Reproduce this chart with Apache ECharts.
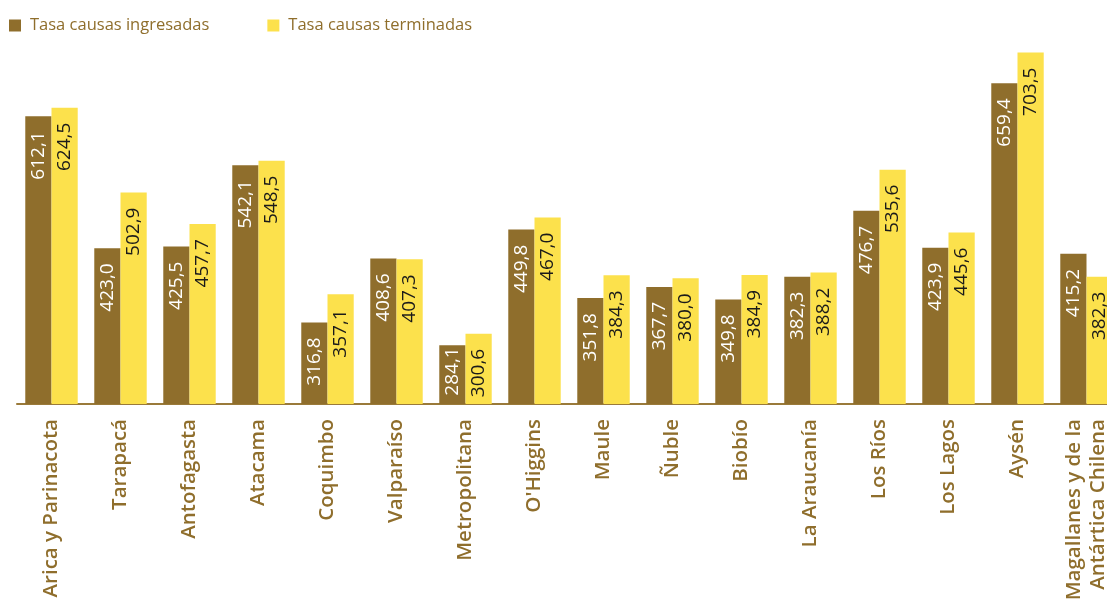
<!DOCTYPE html>
<html>
<head>
<meta charset="utf-8">
<script src="https://cdn.jsdelivr.net/npm/echarts@6/dist/echarts.min.js"></script>
<style>
html,body{margin:0;padding:0;background:#fff;}
#chart{width:1107px;height:600px;}
</style>
</head>
<body>
<div id="chart"></div>
<script>
const categories = ["Arica y Parinacota","Tarapacá","Antofagasta","Atacama","Coquimbo","Valparaíso","Metropolitana","O'Higgins","Maule","Ñuble","Biobío","La Araucanía","Los Ríos","Los Lagos","Aysén","Magallanes y de la\nAntártica Chilena"];
const ingresadas = [612.1,423.0,425.5,542.1,316.8,408.6,284.1,449.8,351.8,367.7,349.8,382.3,476.7,423.9,659.4,415.2];
const terminadas = [624.5,502.9,457.7,548.5,357.1,407.3,300.6,467.0,384.3,380.0,384.9,388.2,535.6,445.6,703.5,382.3];
const seriesNames = ["Tasa causas ingresadas","Tasa causas terminadas"];

const BROWN = "#8F6E2C";
const YELLOW = "#FCE14C";
const FONT = "'Open Sans', 'Noto Sans', sans-serif";
const fmt = p => p.value.toFixed(1).replace('.', ',');

const labelCfg = (color) => ({
  show: true,
  position: 'insideTop',
  distance: 15,
  rotate: 90,
  align: 'right',
  verticalAlign: 'middle',
  color: color,
  fontFamily: FONT,
  fontSize: 19,
  fontWeight: 500,
  formatter: fmt
});

// short bars: pull the label up so it stays inside the bar
const withFit = arr => arr.map(v => v < 300 ? {value: v, label: {distance: 2}} : v);

const chart = echarts.init(document.getElementById('chart'), null, {renderer: 'canvas'});
chart.setOption({
  animation: false,
  legend: {
    left: 4,
    top: 12,
    itemWidth: 12,
    itemHeight: 12,
    itemGap: 58,
    icon: 'rect',
    textStyle: {color: BROWN, fontSize: 16.5, fontFamily: FONT, padding: [0,0,0,4]},
    data: seriesNames
  },
  grid: {left: 17, width: 1104, top: 41, bottom: 196, containLabel: false, outerBoundsMode: 'none'},
  xAxis: {
    type: 'category',
    data: categories,
    axisLine: {lineStyle: {color: '#9A7A3A', width: 2}},
    axisTick: {show: false},
    axisLabel: {
      rotate: 90,
      interval: 0,
      margin: 15,
      color: BROWN,
      fontSize: 20.5,
      fontWeight: 600,
      fontFamily: FONT,
      lineHeight: 24
    }
  },
  yAxis: {
    type: 'value',
    min: 200,
    max: 720,
    show: false,
    splitLine: {show: false}
  },
  series: [
    {
      name: seriesNames[0],
      type: 'bar',
      data: withFit(ingresadas),
      barWidth: '38%',
      barGap: '0%',
      itemStyle: {color: BROWN},
      label: labelCfg('#ffffff')
    },
    {
      name: seriesNames[1],
      type: 'bar',
      data: withFit(terminadas),
      barWidth: '38%',
      barGap: '0%',
      itemStyle: {color: YELLOW},
      label: labelCfg('#1a1a1a')
    }
  ]
});
</script>
</body>
</html>
